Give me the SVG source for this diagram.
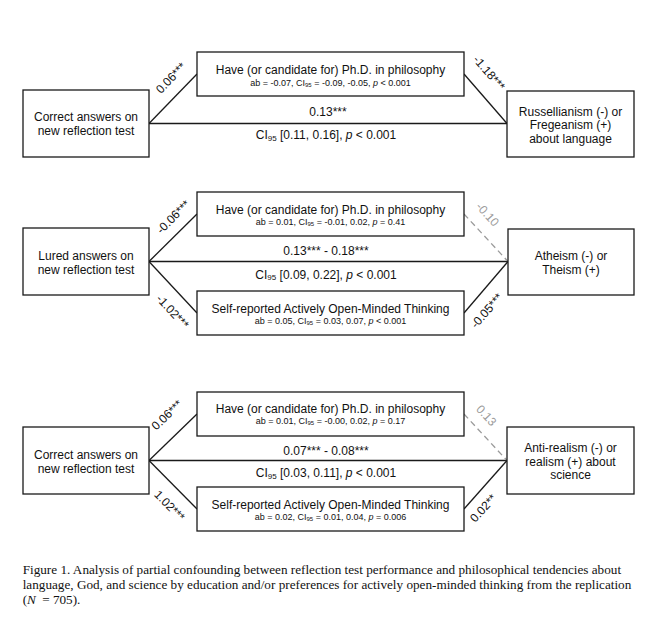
<svg xmlns="http://www.w3.org/2000/svg" width="660" height="631" viewBox="0 0 660 631">
<style>
.box{fill:#fff;stroke:#1a1a1a;stroke-width:1.3}
.ln{stroke:#1a1a1a;stroke-width:1.3;fill:none}
.dash{stroke:#9a9a9a;stroke-width:1.3;stroke-dasharray:6 4;fill:none}
text{font-family:"Liberation Sans",Arial,sans-serif;fill:#111}
.t{font-size:12px;text-anchor:middle}
.s{font-size:9px;text-anchor:middle}
.g{fill:#9a9a9a}
.cap{font-family:"Liberation Serif","Times New Roman",serif;font-size:13.2px}
</style>
<rect width="660" height="631" fill="#fff"/>

<g id="connectors">
  <!-- panel 1 -->
  <line class="ln" x1="149" y1="123.5" x2="507" y2="123.5"/>
  <line class="ln" x1="149" y1="123.5" x2="197" y2="74"/>
  <line class="ln" x1="464" y1="74" x2="507" y2="123.5"/>
  <!-- panel 2 -->
  <line class="ln" x1="149" y1="261.5" x2="508" y2="261.5"/>
  <line class="ln" x1="149" y1="261.5" x2="197" y2="214"/>
  <line class="ln" x1="149" y1="261.5" x2="197" y2="313"/>
  <line class="dash" x1="464" y1="214" x2="508" y2="261.5"/>
  <line class="ln" x1="464" y1="313" x2="508" y2="261.5"/>
  <!-- panel 3 -->
  <line class="ln" x1="149" y1="460.5" x2="507" y2="460.5"/>
  <line class="ln" x1="149" y1="460.5" x2="197" y2="414"/>
  <line class="ln" x1="149" y1="460.5" x2="197" y2="509"/>
  <line class="dash" x1="464" y1="414" x2="507" y2="460.5"/>
  <line class="ln" x1="464" y1="509" x2="507" y2="460.5"/>

  <!-- path labels -->
  <text class="t" x="328" y="116">0.13***</text>
  <text class="t" x="326" y="139.3">CI<tspan font-size="8" dy="1.5">95</tspan><tspan dy="-1.5"> [0.11, 0.16], </tspan><tspan font-style="italic">p</tspan> &lt; 0.001</text>
  <text class="t" transform="translate(171,78) rotate(-46)" y="4">0.06***</text>
  <text class="t" transform="translate(489,73) rotate(49)" y="4">-1.18***</text>

  <text class="t" x="326" y="255">0.13*** - 0.18***</text>
  <text class="t" x="326" y="278.6">CI<tspan font-size="8" dy="1.5">95</tspan><tspan dy="-1.5"> [0.09, 0.22], </tspan><tspan font-style="italic">p</tspan> &lt; 0.001</text>
  <text class="t" transform="translate(173.3,217) rotate(-45)" y="4">-0.06***</text>
  <text class="t" transform="translate(172.5,311.7) rotate(47)" y="4">-1.02***</text>
  <text class="t g" transform="translate(487.5,214.5) rotate(47.5)" y="4">-0.10</text>
  <text class="t" transform="translate(486.7,310.8) rotate(-49)" y="4">-0.05***</text>

  <text class="t" x="326" y="455">0.07*** - 0.08***</text>
  <text class="t" x="326" y="477">CI<tspan font-size="8" dy="1.5">95</tspan><tspan dy="-1.5"> [0.03, 0.11], </tspan><tspan font-style="italic">p</tspan> &lt; 0.001</text>
  <text class="t" transform="translate(167,415) rotate(-44)" y="4">0.06***</text>
  <text class="t" transform="translate(169.5,505.8) rotate(45.5)" y="4">1.02***</text>
  <text class="t g" transform="translate(486.3,415.5) rotate(47)" y="4">0.13</text>
  <text class="t" transform="translate(483.3,508.3) rotate(-48)" y="4">0.02**</text>
</g>

<!-- Panel 1 -->
<g id="p1-left">
  <rect class="box" x="23" y="90" width="126" height="67"/>
  <text class="t" x="86" y="121">Correct answers on</text>
  <text class="t" x="86" y="135">new reflection test</text>
</g>
<g id="p1-phd">
  <rect class="box" x="197" y="52" width="267" height="44"/>
  <text class="t" x="330.5" y="74.3">Have (or candidate for) Ph.D. in philosophy</text>
  <text class="s" x="330.5" y="85.5">ab = -0.07, CI<tspan font-size="6" dy="1">95</tspan><tspan dy="-1"> = -0.09, -0.05, </tspan><tspan font-style="italic">p</tspan> &lt; 0.001</text>
</g>
<g id="p1-right">
  <rect class="box" x="507" y="91" width="127" height="66"/>
  <text class="t" x="570.5" y="116">Russellianism (-) or</text>
  <text class="t" x="570.5" y="129.3">Fregeanism (+)</text>
  <text class="t" x="570.5" y="142.6">about language</text>
</g>

<!-- Panel 2 -->
<g id="p2-left">
  <rect class="box" x="23" y="228" width="126" height="67"/>
  <text class="t" x="86" y="260.3">Lured answers on</text>
  <text class="t" x="86" y="274.3">new reflection test</text>
</g>
<g id="p2-phd">
  <rect class="box" x="197" y="192" width="267" height="44"/>
  <text class="t" x="330.5" y="213.6">Have (or candidate for) Ph.D. in philosophy</text>
  <text class="s" x="330.5" y="224.7">ab = 0.01, CI<tspan font-size="6" dy="1">95</tspan><tspan dy="-1"> = -0.01, 0.02, </tspan><tspan font-style="italic">p</tspan> = 0.41</text>
</g>
<g id="p2-aot">
  <rect class="box" x="197" y="291" width="267" height="44"/>
  <text class="t" x="330.5" y="312.6">Self-reported Actively Open-Minded Thinking</text>
  <text class="s" x="330.5" y="323.5">ab = 0.05, CI<tspan font-size="6" dy="1">95</tspan><tspan dy="-1"> = 0.03, 0.07, </tspan><tspan font-style="italic">p</tspan> &lt; 0.001</text>
</g>
<g id="p2-right">
  <rect class="box" x="508" y="229" width="126" height="66"/>
  <text class="t" x="571" y="260.3">Atheism (-) or</text>
  <text class="t" x="571" y="274.3">Theism (+)</text>
</g>

<!-- Panel 3 -->
<g id="p3-left">
  <rect class="box" x="23" y="427" width="126" height="67"/>
  <text class="t" x="86" y="458.6">Correct answers on</text>
  <text class="t" x="86" y="472.6">new reflection test</text>
</g>
<g id="p3-phd">
  <rect class="box" x="197" y="392" width="267" height="44"/>
  <text class="t" x="330.5" y="412.6">Have (or candidate for) Ph.D. in philosophy</text>
  <text class="s" x="330.5" y="423.7">ab = 0.01, CI<tspan font-size="6" dy="1">95</tspan><tspan dy="-1"> = -0.00, 0.02, </tspan><tspan font-style="italic">p</tspan> = 0.17</text>
</g>
<g id="p3-aot">
  <rect class="box" x="197" y="487" width="267" height="44"/>
  <text class="t" x="330.5" y="508.6">Self-reported Actively Open-Minded Thinking</text>
  <text class="s" x="330.5" y="519.7">ab = 0.02, CI<tspan font-size="6" dy="1">95</tspan><tspan dy="-1"> = 0.01, 0.04, </tspan><tspan font-style="italic">p</tspan> = 0.006</text>
</g>
<g id="p3-right">
  <rect class="box" x="507" y="427" width="127" height="67"/>
  <text class="t" x="570.5" y="452.3">Anti-realism (-) or</text>
  <text class="t" x="570.5" y="466">realism (+) about</text>
  <text class="t" x="570.5" y="479.3">science</text>
</g>

<g id="caption">
  <text class="cap" x="22.7" y="574">Figure 1. Analysis of partial confounding between reflection test performance and philosophical tendencies about</text>
  <text class="cap" x="22.7" y="589">language, God, and science by education and/or preferences for actively open-minded thinking from the replication</text>
  <text class="cap" x="22.7" y="603.5">(<tspan font-style="italic">N</tspan><tspan dx="3"> = 705).</tspan></text>
</g>
</svg>
